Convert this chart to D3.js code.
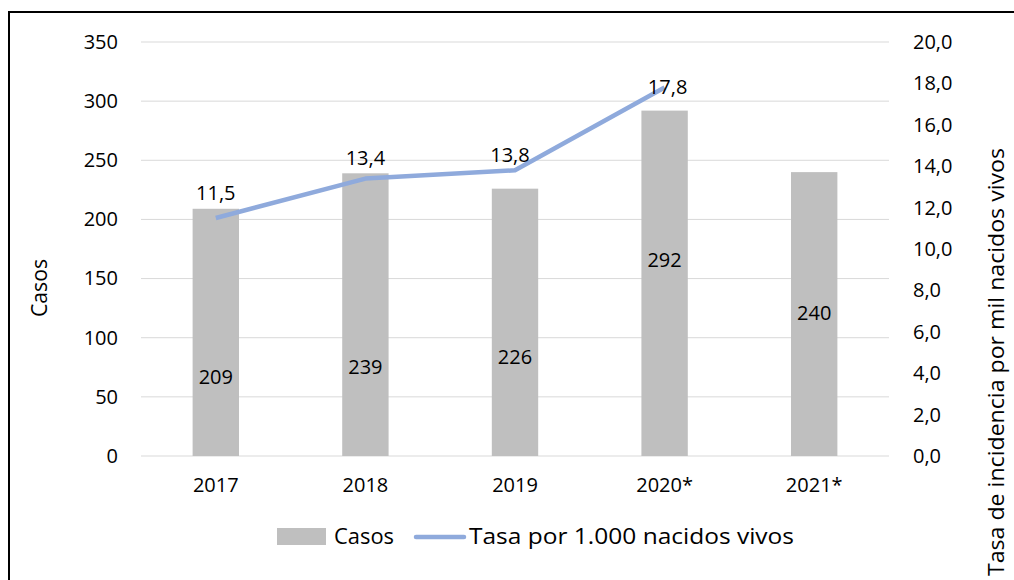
<!DOCTYPE html>
<html><head><meta charset="utf-8">
<script src="https://cdn.jsdelivr.net/npm/d3@7"></script>
<style>body{margin:0;background:#fff}svg{display:block;font-family:"Open Sans",sans-serif}</style>
</head><body><svg id="c" width="1014" height="580"></svg>
<script>
const categories = ["2017","2018","2019","2020*","2021*"];
const casos = [209, 239, 226, 292, 240];
const tasa = [11.5, 13.4, 13.8, 17.8];
const casosLabelAt = [67, 75, 84, 166, 121];
const tasaLabelAt = [12.7, 14.4, 14.55, 17.85];
const leftTicks = [0,50,100,150,200,250,300,350];
const rightTicks = [0,2,4,6,8,10,12,14,16,18,20];

const FONT = "Open Sans";
const FS = 20;
const FW = 21;
const svg = d3.select("#c");
const W = 1014, H = 580;
const m = {l:141, r:W-889, t:42, b:H-456};
const x = d3.scaleBand().domain(categories).range([m.l, W-m.r]).padding(0);
const y1 = d3.scaleLinear().domain([0,350]).range([H-m.b, m.t]);
const y2 = d3.scaleLinear().domain([0,20]).range([H-m.b, m.t]);
const fmt = d3.format(".1f");
const comma = v => fmt(v).replace(".", ",");

// border
svg.append("rect").attr("x",9).attr("y",12).attr("width",1020).attr("height",600)
  .attr("fill","none").attr("stroke","#000").attr("stroke-width",2);

// gridlines
svg.append("g").selectAll("line").data(leftTicks).join("line")
  .attr("x1",m.l).attr("x2",W-m.r).attr("y1",d=>y1(d)).attr("y2",d=>y1(d))
  .attr("stroke","#d9d9d9").attr("stroke-width",1);

// left axis
const la = svg.append("g").attr("transform",`translate(${m.l},0)`)
  .call(d3.axisLeft(y1).tickValues(leftTicks).tickSize(0).tickPadding(23));
la.select(".domain").remove();
la.selectAll("text").attr("font-size",FS).attr("fill","#000").attr("font-family",FONT);

// right axis
const ra = svg.append("g").attr("transform",`translate(${W-m.r},0)`)
  .call(d3.axisRight(y2).tickValues(rightTicks).tickSize(0).tickPadding(24).tickFormat(comma));
ra.select(".domain").remove();
ra.selectAll("text").attr("font-size",FS).attr("fill","#000").attr("font-family",FONT);

// x axis
const xa = svg.append("g").attr("transform",`translate(0,${H-m.b})`)
  .call(d3.axisBottom(x).tickSize(0).tickPadding(22));
xa.select(".domain").remove();
xa.selectAll("text").attr("font-size",FS).attr("fill","#000").attr("font-family",FONT);

// bars
const bw = x.bandwidth()*0.31;
const cx = d => x(d) + x.bandwidth()/2;
svg.append("g").selectAll("rect").data(casos).join("rect")
  .attr("x",(d,i)=>cx(categories[i]) - bw/2)
  .attr("y",d=>y1(d)).attr("width",bw).attr("height",d=>y1(0)-y1(d))
  .attr("fill","#bfbfbf");

// bar labels
svg.append("g").selectAll("text").data(casos).join("text")
  .attr("x",(d,i)=>cx(categories[i]))
  .attr("y",(d,i)=>y1(casosLabelAt[i]))
  .attr("dy","0.35em").attr("text-anchor","middle")
  .attr("font-size",FS).attr("fill","#000").text(d=>d);

// line
const line = d3.line().x((d,i)=>cx(categories[i])).y(d=>y2(d));
svg.append("path").datum(tasa).attr("d",line).attr("fill","none")
  .attr("stroke","#8faadc").attr("stroke-width",4.5).attr("stroke-linejoin","round");

// line labels
const tasaDx = [0,0,-5,3];
svg.append("g").selectAll("text").data(tasa).join("text")
  .attr("x",(d,i)=>cx(categories[i]) + tasaDx[i])
  .attr("y",(d,i)=>y2(tasaLabelAt[i]))
  .attr("dy","0.35em").attr("text-anchor","middle")
  .attr("font-size",FS).attr("fill","#000").text(d=>comma(d));

// axis titles
svg.append("text").attr("transform",`translate(47,${(m.t + H-m.b)/2 + 39}) rotate(-90)`)
  .attr("text-anchor","middle").attr("font-size",FW)
  .attr("textLength",58).attr("lengthAdjust","spacingAndGlyphs").text("Casos");
svg.append("text").attr("transform",`translate(1004,362) rotate(-90)`)
  .attr("text-anchor","middle").attr("font-size",FW)
  .attr("textLength",428).attr("lengthAdjust","spacingAndGlyphs")
  .text("Tasa de incidencia por mil nacidos vivos");

// legend
const lg = svg.append("g");
lg.append("rect").attr("x",277).attr("y",528).attr("width",49).attr("height",17).attr("fill","#bfbfbf");
lg.append("text").attr("x",334).attr("y",537).attr("dy","0.35em").attr("font-size",FW)
  .attr("textLength",60).attr("lengthAdjust","spacingAndGlyphs").text("Casos");
lg.append("line").attr("x1",416).attr("x2",464).attr("y1",537).attr("y2",537)
  .attr("stroke","#8faadc").attr("stroke-width",4.5).attr("stroke-linecap","round");
lg.append("text").attr("x",469).attr("y",537).attr("dy","0.35em").attr("font-size",FW)
  .attr("textLength",325).attr("lengthAdjust","spacingAndGlyphs").text("Tasa por 1.000 nacidos vivos");
</script></body></html>
